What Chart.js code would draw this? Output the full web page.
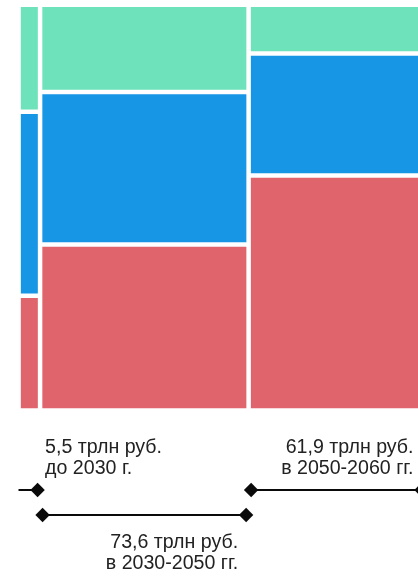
<!DOCTYPE html>
<html lang="ru">
<head>
<meta charset="utf-8">
<title>Объём инвестиций по периодам</title>
<script src="https://cdn.jsdelivr.net/npm/chart.js@4.4.1/dist/chart.umd.min.js"></script>
<style>
  html, body { margin: 0; padding: 0; background: #ffffff; overflow: hidden; }
  #wrap { position: relative; width: 425px; height: 577px; }
  canvas { display: block; }
</style>
</head>
<body>
<div id="wrap"><canvas id="chart" width="425" height="577"></canvas></div>
<script>
// Periods and total volume per period, trillion rubles (column widths)
const periods = ['до 2030 г.', 'в 2030-2050 гг.', 'в 2050-2060 гг.'];
const volumes = [5.5, 73.6, 61.9];

// Structure of each period's volume, % (segment heights, bottom to top)
const lowerShare  = [28.3, 40.9, 57.9];
const middleShare = [45.3, 37.6, 30.1];
const upperShare  = [26.4, 21.5, 12.0];

const colors = { lower: '#e0646b', middle: '#1796e6', upper: '#6ee2ba' };

// Column edges along the x axis: cumulative volumes
const edges = [];
volumes.reduce((acc, v) => { edges.push({ x0: acc, x1: acc + v }); return acc + v; }, 0);
const totalVolume = volumes.reduce((a, b) => a + b, 0);

// Floating segments [from, to] stacked inside each column
function segments(shares, below) {
  return shares.map((s, i) => {
    const lo = below.reduce((acc, arr) => acc + arr[i], 0);
    return { x: (edges[i].x0 + edges[i].x1) / 2, y: [lo, lo + s], x0: edges[i].x0, x1: edges[i].x1 };
  });
}

const formatVolume = v => v.toFixed(1).replace('.', ',') + ' трлн руб.';

// Bar controller whose bars span their column edges on a linear x axis (mekko layout)
class MekkoController extends Chart.BarController {
  updateElement(element, index, properties, mode) {
    if (properties && !properties.horizontal && properties.width !== undefined) {
      const xScale = this._cachedMeta.xScale;
      const raw = this.getDataset().data[index];
      const minWidth = this.getDataset().minColumnWidth || 0;
      let left = xScale.getPixelForValue(raw.x0);
      const right = xScale.getPixelForValue(raw.x1);
      if (right - left < minWidth) left = right - minWidth;
      properties.x = (left + right) / 2;
      properties.width = right - left;
    }
    super.updateElement(element, index, properties, mode);
  }
}
MekkoController.id = 'mekko';
MekkoController.defaults = Chart.BarController.defaults;
Chart.register(MekkoController);

// Period brackets with diamond ends and captions under the columns
const periodBrackets = {
  id: 'periodBrackets',
  afterDraw(chart) {
    const { ctx, chartArea, scales: { x } } = chart;
    const base = chartArea.bottom;
    const r = 7.2;
    ctx.save();
    ctx.font = '19.6px "Liberation Sans", Arial, sans-serif';
    ctx.lineWidth = 2;
    ctx.strokeStyle = '#0a0a0a';
    edges.forEach((e, i) => {
      const left = x.getPixelForValue(e.x0);
      const right = x.getPixelForValue(e.x1);
      const lowerRow = i % 2 === 1;
      const ly = base + (lowerRow ? 104.5 : 79.5);
      const openStart = i === 0;
      const xa = openStart ? left - 6 : left + 2.5;
      const xb = right - 2.5;

      ctx.beginPath();
      ctx.moveTo(xa, ly);
      ctx.lineTo(xb, ly);
      ctx.stroke();

      ctx.fillStyle = '#0a0a0a';
      const ends = openStart ? [xb] : [xa, xb];
      ends.forEach(px => {
        Chart.helpers.drawPoint(ctx, { pointStyle: 'rectRot', radius: r, borderWidth: 0, rotation: 0 }, px, ly);
      });

      const lines = [formatVolume(volumes[i]), periods[i]];
      const narrow = right - left < 140;
      ctx.textAlign = narrow ? 'left' : 'right';
      ctx.textBaseline = 'alphabetic';
      ctx.fillStyle = '#222222';
      const tx = narrow ? right + 5 : right - 10.5;
      const baselines = lowerRow ? [ly + 32.7, ly + 54.3] : [ly - 37.5, ly - 16];
      lines.forEach((t, k) => ctx.fillText(t, tx, baselines[k]));
    });
    ctx.restore();
  }
};

const barStyle = {
  borderColor: '#ffffff',
  borderWidth: 2.25,
  borderSkipped: false,
  minColumnWidth: 21.5,
  clip: false
};

new Chart(document.getElementById('chart'), {
  type: 'mekko',
  data: {
    datasets: [
      Object.assign({ label: 'lower', data: segments(lowerShare, []), backgroundColor: colors.lower }, barStyle),
      Object.assign({ label: 'middle', data: segments(middleShare, [lowerShare]), backgroundColor: colors.middle }, barStyle),
      Object.assign({ label: 'upper', data: segments(upperShare, [lowerShare, middleShare]), backgroundColor: colors.upper }, barStyle)
    ]
  },
  options: {
    responsive: false,
    animation: false,
    events: [],
    layout: { padding: { left: 24.5, right: 1, top: 4.75, bottom: 166.5 } },
    scales: {
      x: { type: 'linear', min: 0, max: totalVolume, offset: false, display: false },
      y: { type: 'linear', min: 0, max: 100, display: false }
    },
    plugins: {
      legend: { display: false },
      tooltip: { enabled: false }
    }
  },
  plugins: [periodBrackets]
});
</script>
</body>
</html>
